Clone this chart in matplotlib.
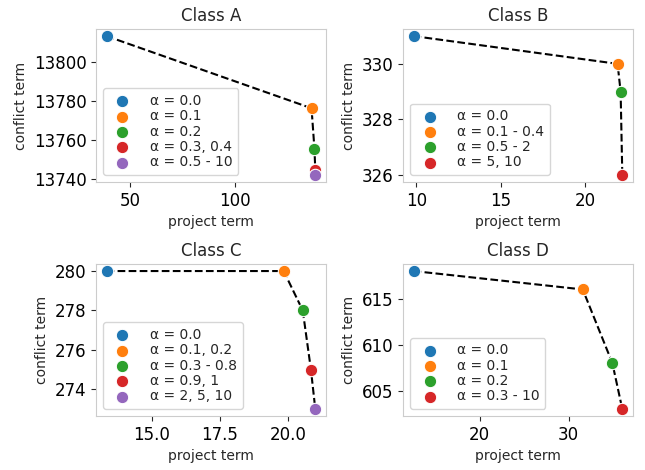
import numpy as np
import matplotlib
matplotlib.use("Agg")
from matplotlib import pyplot as plt

# Class A
a_x = [38.6, 136.8, 138.2, 138.6, 138.6]
a_y = [13813.4, 13776.3, 13755.4, 13744.6, 13742.0]
a_lab = ["α = 0.0", "α = 0.1", "α = 0.2", "α = 0.3, 0.4", "α = 0.5 - 10"]

# Class B
b_x = [9.84, 21.92, 22.1, 22.2]
b_y = [331.0, 330.0, 329.0, 326.0]
b_lab = ["α = 0.0", "α = 0.1 - 0.4", "α = 0.5 - 2", "α = 5, 10"]

# Class C
c_x = [13.34, 19.84, 20.54, 20.84, 21.0]
c_y = [280.0, 280.0, 278.0, 275.0, 273.0]
c_lab = ["α = 0.0", "α = 0.1, 0.2", "α = 0.3 - 0.8", "α = 0.9, 1", "α = 2, 5, 10"]

# Class D
d_x = [12.57, 31.6, 34.93, 36.05]
d_y = [618.0, 616.0, 608.0, 603.0]
d_lab = ["α = 0.0", "α = 0.1", "α = 0.2", "α = 0.3 - 10"]

titles = ["Class A", "Class B", "Class C", "Class D"]
xticks = [[50, 100], [10, 15, 20], [15.0, 17.5, 20.0], [20, 30]]
yticks = [[13740, 13760, 13780, 13800], [326, 328, 330],
          [274, 276, 278, 280], [605, 610, 615]]

colors = ['#1f77b4', '#ff7f0e', '#2ca02c', '#d62728', '#9467bd']

plt.rcParams['axes.edgecolor'] = '0.8'
plt.rcParams['text.color'] = '0.15'
plt.rcParams['axes.labelcolor'] = '0.15'

fig = plt.figure(figsize=(6.45, 4.7), dpi=100)
boxes = [[0.149, 0.613, 0.356, 0.325], [0.625, 0.613, 0.356, 0.325],
         [0.149, 0.115, 0.356, 0.323], [0.625, 0.115, 0.356, 0.323]]
data = [(a_x, a_y, a_lab), (b_x, b_y, b_lab), (c_x, c_y, c_lab), (d_x, d_y, d_lab)]

for i, (xs, ys, labs) in enumerate(data):
    ax = fig.add_axes(boxes[i])
    ax.plot(xs, ys, '--', color='black', lw=1.5, zorder=1)
    for j in range(len(xs)):
        ax.scatter(xs[j], ys[j], s=80, color=colors[j], edgecolor='white',
                   linewidth=0.8, label=labs[j], zorder=2)
    ax.set_title(titles[i], fontsize=12)
    ax.set_xlabel("project term", fontsize=10)
    ax.set_ylabel("conflict term", fontsize=10)
    ax.set_xticks(xticks[i])
    ax.set_yticks(yticks[i])
    ax.tick_params(labelsize=12, color='0.15')
    ax.legend(loc='lower left', fontsize=10, handletextpad=1.0,
              labelspacing=0.1)

fig.savefig("out.png", dpi=100)
